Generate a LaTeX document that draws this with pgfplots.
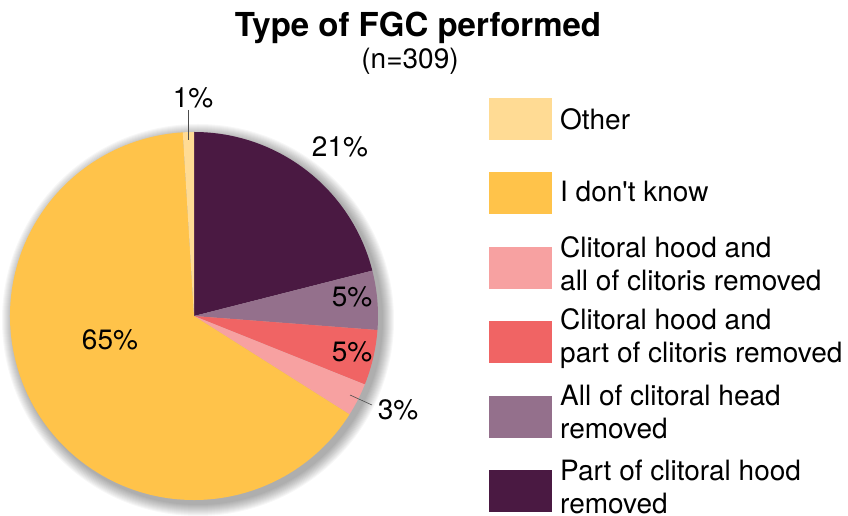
\documentclass[border=0pt]{standalone}
\usepackage{fontspec}
\setmainfont{TeX Gyre Heros}
\usepackage{pgfplots}
\usepackage{pgfplotstable}
\pgfplotsset{compat=1.18}
\definecolor{cDark}{HTML}{4A1942}
\definecolor{cMauve}{HTML}{94708C}
\definecolor{cCoral}{HTML}{F06464}
\definecolor{cPink}{HTML}{F7A1A1}
\definecolor{cYellow}{HTML}{FFC34A}
\definecolor{cLight}{HTML}{FFDB94}

% counts of respondents (n=309), clockwise from 12 o'clock
\pgfplotstableread{
count color
65 cDark
16 cMauve
15 cCoral
9 cPink
201 cYellow
3 cLight
}\piedata

\begin{document}
\begin{tikzpicture}
\path[use as bounding box] (0,0) rectangle (848pt,516pt);
\begin{axis}[at={(0,0)}, anchor=south west, scale only axis,
  width=848pt, height=516pt, xmin=0, xmax=848, ymin=0, ymax=516,
  hide axis, clip=false]
\def\total{0}
\pgfplotsforeachungrouped \i in {0,...,5}{%
  \pgfplotstablegetelem{\i}{count}\of\piedata
  \pgfmathsetmacro\total{\total+\pgfplotsretval}%
}
% soft shadow
\pgfplotsforeachungrouped \k in {1,...,12}{%
  \edef\temp{\noexpand\fill[black,opacity=0.03] (axis cs:198,196) circle[radius=\the\numexpr184+\k\relax pt];}%
  \temp
}
% slices
\def\cum{0}
\pgfplotsforeachungrouped \i in {0,...,5}{%
  \pgfplotstablegetelem{\i}{count}\of\piedata \let\pcount\pgfplotsretval
  \pgfplotstablegetelem{\i}{color}\of\piedata \let\pcol\pgfplotsretval
  \pgfmathsetmacro\pa{90-\cum/\total*360}%
  \pgfmathsetmacro\pb{90-(\cum+\pcount)/\total*360}%
  \edef\temp{\noexpand\fill[\pcol] (axis cs:194,200) -- ++(\pa:184pt) arc[start angle=\pa, end angle=\pb, radius=184pt] -- cycle;}%
  \temp
  \pgfmathsetmacro\cum{\cum+\pcount}%
  % legend square
  \pgfmathsetmacro\ltop{418-74.5*(5-\i)}%
  \pgfmathsetmacro\lbot{\ltop-42}%
  \edef\temp{\noexpand\fill[\pcol] (axis cs:489,\lbot) rectangle (axis cs:552,\ltop);}%
  \temp
}
% slice labels
\begin{scope}[every node/.style={font=\fontsize{28}{33}\selectfont, inner sep=0pt}]
\node at (axis cs:340,369) {21\%};
\node at (axis cs:352,219) {5\%};
\node at (axis cs:352,164) {5\%};
\node at (axis cs:110,176) {65\%};
\node at (axis cs:193,418) {1\%};
\draw[black!70, line width=0.6pt] (axis cs:188,406) -- (axis cs:188,376);
\node at (axis cs:398,106) {3\%};
\draw[black!70, line width=0.6pt] (axis cs:350,121) -- (axis cs:372,111);
% legend text
\begin{scope}[every node/.append style={anchor=west, align=left}]
\node at (axis cs:560,397) {Other};
\node at (axis cs:560,324) {I don\textquotesingle t know};
\node at (axis cs:560,252.5) {Clitoral hood and\\all of clitoris removed};
\node at (axis cs:560,177.5) {Clitoral hood and\\part of clitoris removed};
\node at (axis cs:560,104.5) {All of clitoral head\\removed};
\node at (axis cs:560,29.5) {Part of clitoral hood\\removed};
\end{scope}
\end{scope}
% title
\node[font=\bfseries\fontsize{33}{38}\selectfont, inner sep=0pt] at (axis cs:418,488) {Type of FGC performed};
\node[font=\fontsize{28}{32}\selectfont, inner sep=0pt] at (axis cs:410,455) {(n=309)};
\end{axis}
\end{tikzpicture}
\end{document}
